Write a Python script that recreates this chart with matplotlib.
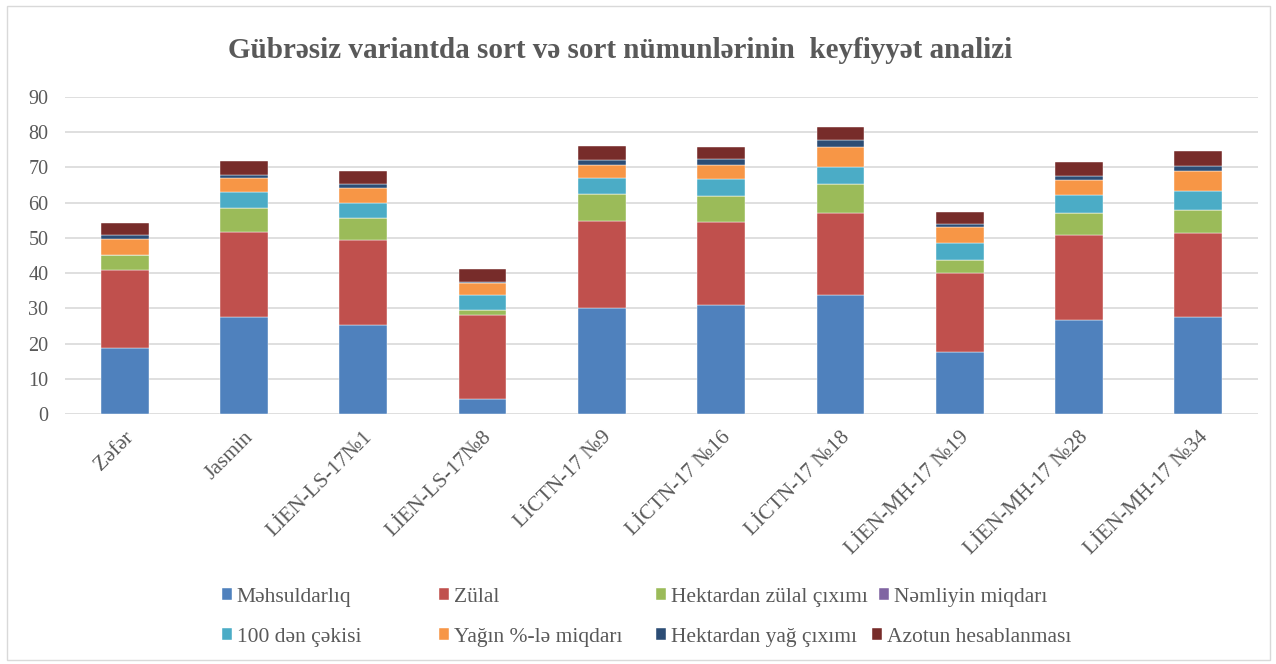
import matplotlib
matplotlib.use("Agg")
import matplotlib.pyplot as plt
import numpy as np
from matplotlib.patches import Rectangle

plt.rcParams['font.family'] = ['Liberation Serif', 'DejaVu Serif']

categories = ["Zəfər", "Jasmin", "LİEN-LS-17№1", "LİEN-LS-17№8", "LİCTN-17 №9",
              "LİCTN-17 №16", "LİCTN-17 №18", "LİEN-MH-17 №19", "LİEN-MH-17 №28",
              "LİEN-MH-17 №34"]

mehsuldarliq = [18.7, 27.5, 25.4, 4.4, 30.0, 30.9, 33.8, 17.6, 26.6, 27.5]
zulal = [22.1, 24.3, 24.0, 23.8, 24.9, 23.5, 23.4, 22.3, 24.1, 23.8]
hektardan_zulal = [4.3, 6.8, 6.2, 1.3, 7.6, 7.4, 8.1, 3.9, 6.3, 6.7]
nemliyin = [0, 0, 0, 0, 0, 0, 0, 0, 0, 0]
den_cekisi = [0, 4.3, 4.2, 4.4, 4.5, 4.9, 4.7, 4.7, 5.3, 5.2]
yagin = [4.6, 4.0, 4.3, 3.4, 3.8, 4.1, 5.8, 4.5, 4.2, 5.9]
hektardan_yag = [1.0, 0.9, 1.1, 0.2, 1.3, 1.5, 1.9, 0.9, 1.2, 1.4]
azotun = [3.5, 4.1, 3.8, 3.7, 3.9, 3.6, 3.7, 3.5, 3.8, 4.2]

series_names = ["Məhsuldarlıq", "Zülal", "Hektardan zülal çıxımı", "Nəmliyin miqdarı",
                "100 dən çəkisi", "Yağın %-lə miqdarı", "Hektardan yağ çıxımı",
                "Azotun hesablanması"]
series = [mehsuldarliq, zulal, hektardan_zulal, nemliyin, den_cekisi, yagin,
          hektardan_yag, azotun]
colors = ["#4F81BD", "#C0504D", "#9BBB59", "#8064A2", "#4BACC6", "#F79646",
          "#2C4D75", "#772C2A"]

# legend entry anchors in pixels (left edge of marker, top of row), same order as series
legend_x = [222, 439, 656, 879, 222, 439, 656, 872]
legend_y = [588, 588, 588, 588, 628, 628, 628, 628]

text_color = "#595959"
W, H = 1276, 664

fig = plt.figure(figsize=(W / 100, H / 100), dpi=100)
ax = fig.add_axes([65 / W, 1 - 414 / H, (1258 - 65) / W, (414 - 97) / H])

x = np.arange(len(categories))
bottom = np.zeros(len(categories))
handles = []
for name, vals, col in zip(series_names, series, colors):
    vals = np.array(vals, dtype=float)
    h = ax.bar(x, vals, width=0.4, bottom=bottom, color=col, label=name,
               edgecolor="white", linewidth=0.3, zorder=3)
    handles.append(h)
    bottom += vals

ax.set_ylim(0, 90)
ax.set_xlim(-0.5, len(categories) - 0.5)
ax.set_yticks(range(0, 91, 10))
ax.yaxis.grid(True, color="#D9D9D9", linewidth=1.2, zorder=0)
for s in ax.spines.values():
    s.set_visible(False)
ax.tick_params(axis="both", length=0, colors=text_color, labelsize=14.5)
ax.tick_params(axis="y", pad=12)
ax.set_xticks(x)
ax.set_xticklabels(categories, rotation=45, ha="right", rotation_mode="anchor",
                   fontsize=15.5, color=text_color)
ax.tick_params(axis="x", pad=10)

fig.text(620 / W, 1 - 50 / H, "Gübrəsiz variantda sort və sort nümunlərinin  keyfiyyət analizi",
         ha="center", va="center", fontsize=21, fontweight="bold", color=text_color)

# one small legend per entry so each sits where Excel put it
for h, name, lx, ly in zip(handles, series_names, legend_x, legend_y):
    fig.legend(handles=[h], labels=[name], loc="upper left",
               bbox_to_anchor=(lx / W, 1 - ly / H), frameon=False,
               fontsize=15.5, labelcolor=text_color, handlelength=0.48,
               handleheight=0.48, handletextpad=0.2, borderpad=0, borderaxespad=0)

fig.patches.append(Rectangle((7 / W, 4 / H), 1263 / W, 654 / H,
                             transform=fig.transFigure, fill=False,
                             edgecolor="#D9D9D9", linewidth=1))

fig.savefig("out.png", dpi=100)
